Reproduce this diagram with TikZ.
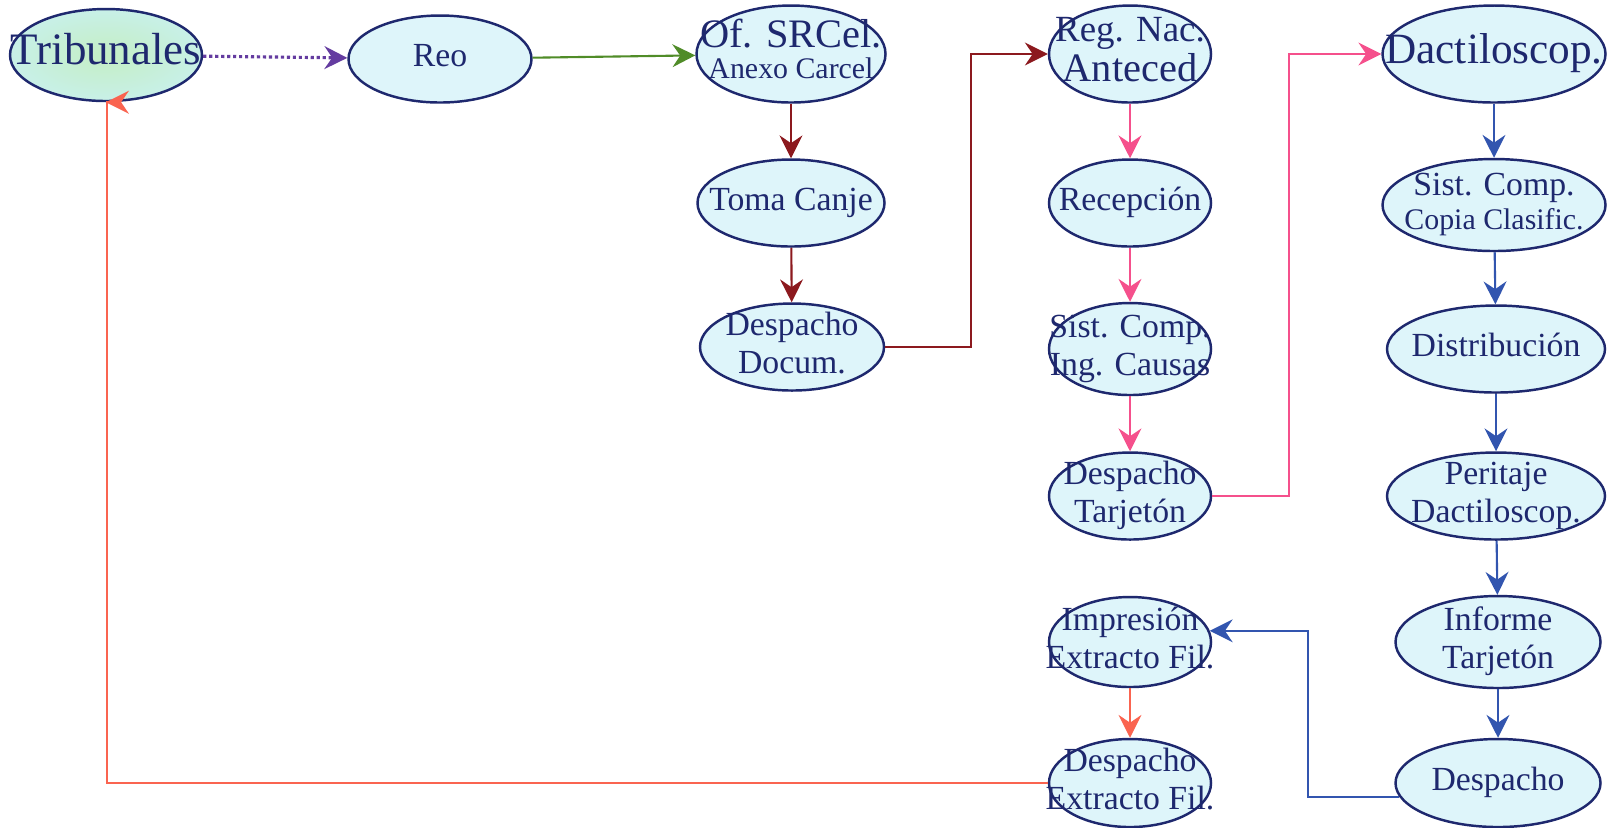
\documentclass[tikz,border=0pt]{standalone}
\usepackage{fontspec}
\setmainfont{Liberation Serif}
\usepackage{xcolor}
\usetikzlibrary{shapes.geometric,arrows.meta}

\definecolor{navy}{RGB}{30,40,110}
\definecolor{paleblue}{RGB}{222,245,250}
\definecolor{palegreen}{RGB}{196,238,196}
\definecolor{paleteal}{RGB}{200,240,232}
\definecolor{violeta}{RGB}{100,60,160}
\definecolor{verde}{RGB}{80,140,40}
\definecolor{granate}{RGB}{140,25,30}
\definecolor{rosa}{RGB}{245,80,140}
\definecolor{azul}{RGB}{50,85,175}
\definecolor{coral}{RGB}{250,100,80}

% text sits on the node centre without widening the ellipse
\newcommand{\etiq}[1]{\smash{\makebox[0pt]{\raisebox{-2.5pt}{\fontsize{9.6}{10.8}\selectfont\begin{tabular}{@{}c@{}}#1\end{tabular}}}}}

\begin{document}
\begin{tikzpicture}[
    proc/.style={ellipse, draw=navy, line width=.7pt, fill=paleblue, inner sep=0pt, text=navy, minimum width=1.62cm, minimum height=.87cm},
    flecha/.style={line width=.6pt, -{Stealth[length=6.5pt, width=6.5pt, inset=2.2pt]}}
  ]
  \useasboundingbox[fill=white] (0,0) rectangle (16.09,-8.27);

  % first row
  \node[proc, minimum width=1.92cm, minimum height=.92cm, shade, inner color=palegreen, outer color=paleteal] (trib) at (1.06,-0.55) {\etiq{\fontsize{12.8}{14}\selectfont Tribunales}};
  \node[proc, minimum width=1.83cm] (reo) at (4.40,-0.59) {\etiq{Reo}};
  \node[proc, minimum width=1.89cm, minimum height=.97cm] (srcel) at (7.91,-0.54) {\etiq{{\fontsize{11.5}{12}\selectfont Of. SRCel.}\\[-2pt]{\fontsize{8.5}{10}\selectfont Anexo Carcel}}};
  \node[proc, minimum width=1.62cm, minimum height=.97cm] (regnac) at (11.30,-0.54) {\etiq{{\fontsize{10.5}{12}\selectfont Reg. Nac.}\\{\fontsize{11.5}{12}\selectfont Anteced}}};
  \node[proc, minimum width=2.23cm, minimum height=.97cm] (dacti) at (14.94,-0.54) {\etiq{\fontsize{12.3}{14}\selectfont Dactiloscop.}};

  % second column
  \node[proc, minimum width=1.87cm] (toma) at (7.91,-2.03) {\etiq{Toma Canje}};
  \node[proc, minimum width=1.84cm] (despdoc) at (7.92,-3.47) {\etiq{Despacho\\Docum.}};

  % third column
  \node[proc] (recep) at (11.30,-2.03) {\etiq{Recepción}};
  \node[proc, minimum height=.92cm] (sistcausa) at (11.30,-3.49) {\etiq{Sist. Comp.\\Ing. Causas}};
  \node[proc] (desptarj) at (11.30,-4.96) {\etiq{Despacho\\Tarjetón}};
  \node[proc, minimum height=.90cm] (impr) at (11.30,-6.42) {\etiq{Impresión\\Extracto Fil.}};
  \node[proc, minimum height=.88cm] (despext) at (11.30,-7.83) {\etiq{Despacho\\Extracto Fil.}};

  % last column
  \node[proc, minimum width=2.23cm, minimum height=.92cm] (sistcopia) at (14.94,-2.05) {\etiq{Sist. Comp.\\[-1pt]{\fontsize{8.5}{10}\selectfont Copia Clasific.}}};
  \node[proc, minimum width=2.18cm] (distrib) at (14.96,-3.49) {\etiq{Distribución}};
  \node[proc, minimum width=2.18cm] (perit) at (14.96,-4.96) {\etiq{Peritaje\\Dactiloscop.}};
  \node[proc, minimum width=2.05cm, minimum height=.92cm] (informe) at (14.98,-6.42) {\etiq{Informe\\Tarjetón}};
  \node[proc, minimum width=2.05cm, minimum height=.88cm] (despfin) at (14.98,-7.83) {\etiq{Despacho}};

  % connectors
  \draw[flecha, violeta, line width=.9pt, dash pattern=on .9pt off .8pt] (trib) -- (reo);
  \draw[flecha, verde] (reo) -- (srcel);
  \draw[flecha, granate] (srcel) -- (toma);
  \draw[flecha, granate] (toma) -- (despdoc);
  \draw[flecha, granate] (despdoc.east) -- ++(0.86,0) |- (regnac.west);
  \draw[flecha, rosa] (regnac) -- (recep);
  \draw[flecha, rosa] (recep) -- (sistcausa);
  \draw[flecha, rosa] (sistcausa) -- (desptarj);
  \draw[flecha, rosa] (desptarj.east) -- ++(0.77,0) |- (dacti.west);
  \draw[flecha, azul] (dacti) -- (sistcopia);
  \draw[flecha, azul] (sistcopia) -- (distrib);
  \draw[flecha, azul] (distrib) -- (perit);
  \draw[flecha, azul] (perit) -- (informe);
  \draw[flecha, azul] (informe) -- (despfin);
  \draw[flecha, azul] (despfin.188) -- ++(-0.91,0) |- (impr.8);
  \draw[flecha, coral] (impr) -- (despext);
  \draw[flecha, coral] (despext.west) -- ++(-9.41,0) |- (trib.south);
\end{tikzpicture}
\end{document}
